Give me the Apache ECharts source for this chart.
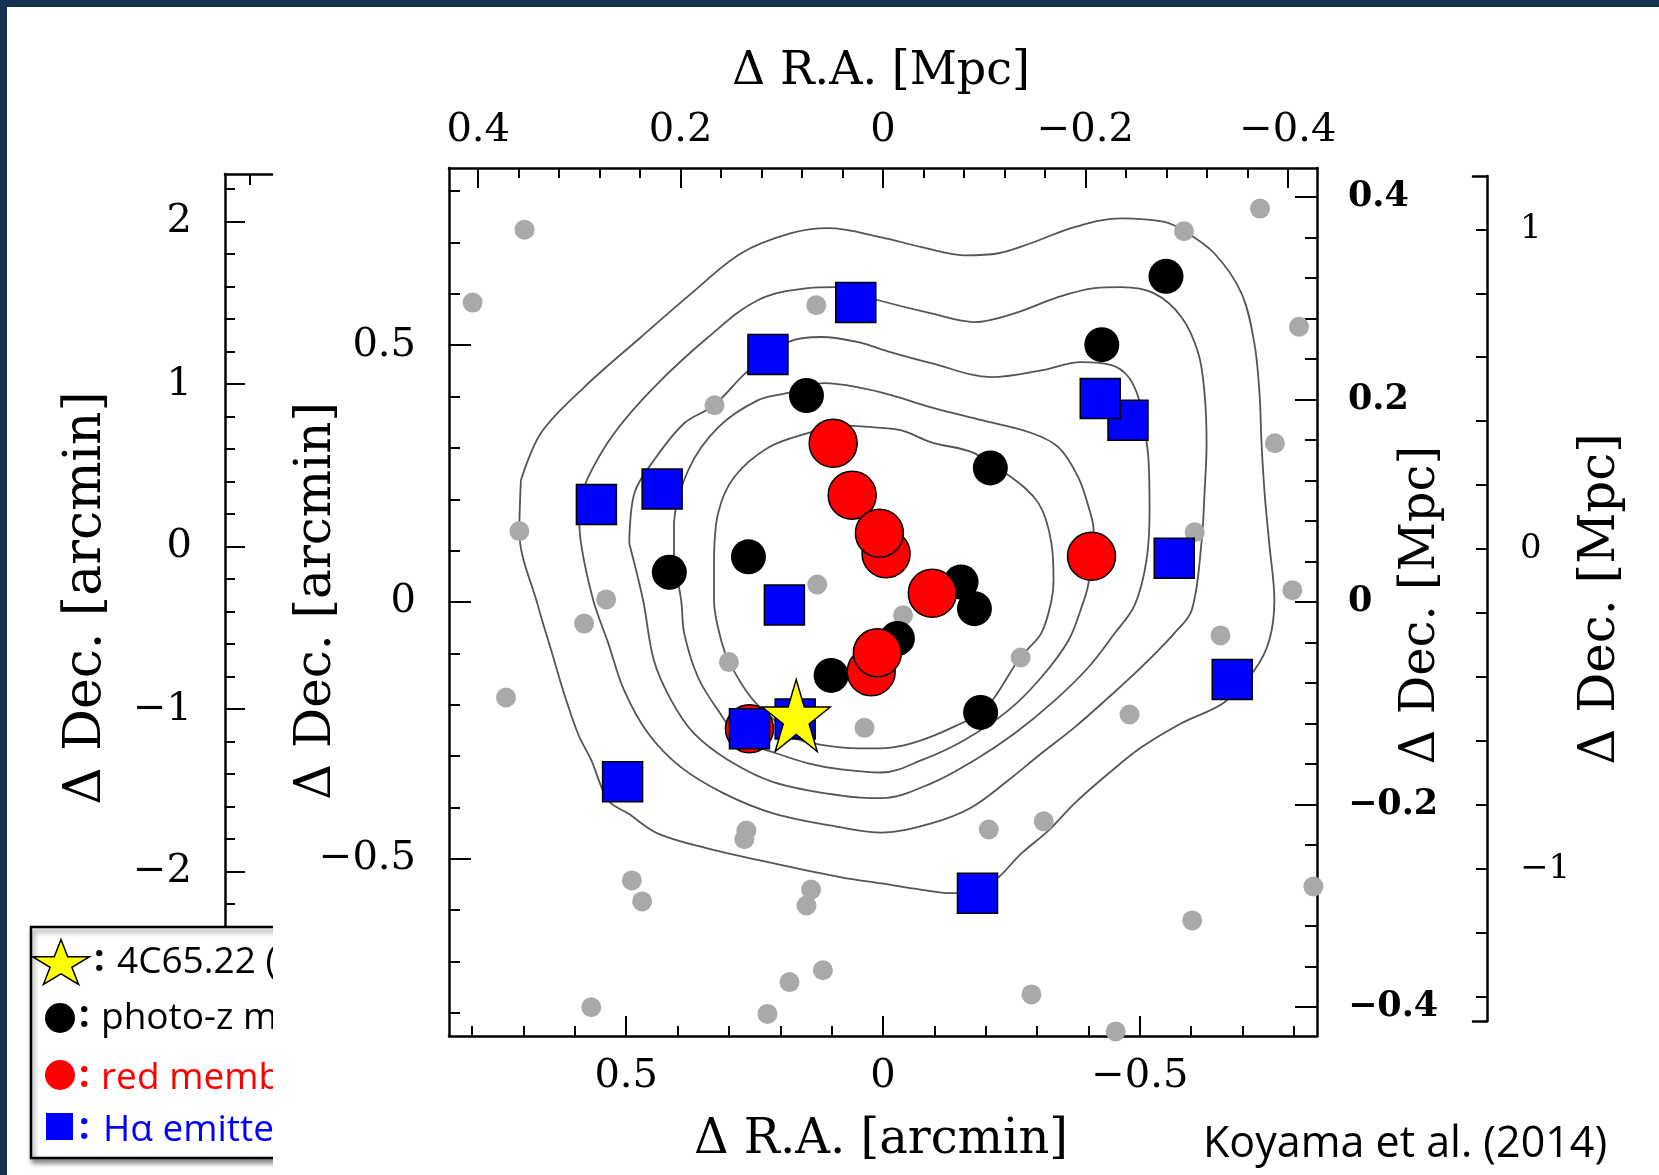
<!DOCTYPE html>
<html><head><meta charset="utf-8">
<script src="https://cdn.jsdelivr.net/npm/echarts@6/dist/echarts.min.js"></script>
<style>html,body{margin:0;padding:0;background:#fff}#chart{width:1659px;height:1175px}</style>
</head><body><div id="chart"></div>
<script>
// ---------------- DATA (arcmin offsets from 4C65.22 field centre) ----------------
const RA_ARC_HALF = 0.845;          // half width of panel, arcmin
const MPC_PER_ARCMIN = 0.5075;      // top/right axes scale
const MPC_HALF = RA_ARC_HALF * MPC_PER_ARCMIN;

const arcminMajor = [-0.5, 0, 0.5];
const arcminMinor = [-0.8,-0.7,-0.6,-0.4,-0.3,-0.2,-0.1,0.1,0.2,0.3,0.4,0.6,0.7,0.8];
const mpcMajor = [-0.4, -0.2, 0, 0.2, 0.4];
const mpcMinor = [-0.36,-0.32,-0.28,-0.24,-0.16,-0.12,-0.08,-0.04,0.04,0.08,0.12,0.16,0.24,0.28,0.32,0.36];
const wideArcMajor = [-2, -1, 0, 1, 2];
const wideArcMinor = [-2.6,-2.4,-2.2,-1.8,-1.6,-1.4,-1.2,-0.8,-0.6,-0.4,-0.2,0.2,0.4,0.6,0.8,1.2,1.4,1.6,1.8,2.2];
const wideMpcTicks = [-1.4,-1.2,-1,-0.8,-0.6,-0.4,-0.2,0,0.2,0.4,0.6,0.8,1];
const wideMpcLabels = [-1, 0, 1];

const grayPoints = [[0.698,0.725],[0.799,0.583],[0.130,0.578],[0.328,0.383],[0.708,0.138],[0.539,0.005],[0.128,0.034],
 [-0.734,0.766],[-0.586,0.722],[-0.810,0.536],[-0.763,0.309],[-0.607,0.136],[-0.797,0.023],[0.582,-0.042],[0.300,-0.117],
 [0.734,-0.186],[0.036,-0.245],[0.266,-0.445],[0.270,-0.462],[0.489,-0.542],[0.469,-0.583],[0.140,-0.560],[0.149,-0.591],
 [0.117,-0.717],[0.182,-0.740],[0.568,-0.789],[0.225,-0.802],[-0.039,-0.026],[-0.657,-0.065],[-0.268,-0.108],[-0.480,-0.219],
 [-0.206,-0.443],[-0.313,-0.427],[-0.838,-0.554],[-0.602,-0.620],[-0.289,-0.764],[-0.453,-0.836]];

const photozPoints = [[0.149,0.402],[0.416,0.058],[0.262,0.088],[-0.551,0.634],[-0.426,0.501],[-0.209,0.261],
 [-0.152,0.039],[-0.178,-0.013],[-0.028,-0.071],[0.101,-0.143],[-0.190,-0.215]];

const redPoints = [[0.097,0.309],[0.060,0.208],[-0.006,0.094],[0.007,0.134],[-0.096,0.017],[0.023,-0.136],[0.011,-0.099],
 [-0.406,0.089],[0.260,-0.247]];

const haPoints = [[0.053,0.583],[0.224,0.482],[0.558,0.190],[0.430,0.220],[0.192,-0.006],[-0.477,0.354],[-0.423,0.396],
 [-0.567,0.085],[-0.680,-0.151],[-0.184,-0.567],[0.507,-0.350],[0.171,-0.228],[0.260,-0.247]];

const radioGalaxy = [[0.169,-0.221]];

const contour1 = [[0.329,0.081],[0.321,0.173],[0.290,0.243],[0.223,0.301],[0.146,0.329],[0.081,0.344],[0.017,0.340],[-0.036,0.334],
 [-0.094,0.311],[-0.178,0.290],[-0.207,0.262],[-0.244,0.247],[-0.303,0.192],[-0.328,0.114],[-0.332,0.042],[-0.328,0.003],
 [-0.308,-0.061],[-0.267,-0.108],[-0.217,-0.186],[-0.190,-0.215],[-0.153,-0.236],[-0.075,-0.269],[0.003,-0.285],[0.048,-0.285],
 [0.126,-0.277],[0.173,-0.264],[0.212,-0.230],[0.257,-0.186],[0.299,-0.118],[0.315,-0.075],[0.329,0.003]];
const contour2 = [[0.407,0.081],[0.407,0.146],[0.379,0.257],[0.321,0.340],[0.243,0.393],[0.185,0.407],[0.114,0.426],[0.048,0.418],
 [-0.016,0.403],[-0.094,0.379],[-0.192,0.354],[-0.289,0.329],[-0.342,0.301],[-0.380,0.243],[-0.402,0.179],[-0.410,0.140],
 [-0.400,0.036],[-0.388,-0.006],[-0.361,-0.075],[-0.308,-0.147],[-0.244,-0.211],[-0.158,-0.269],[-0.075,-0.308],[0.003,-0.332],
 [0.081,-0.326],[0.146,-0.314],[0.212,-0.293],[0.276,-0.269],[0.321,-0.211],[0.360,-0.147],[0.387,-0.061],[0.393,0.003]];
const contour3 = [[0.494,0.114],[0.484,0.212],[0.446,0.276],[0.387,0.348],[0.329,0.383],[0.262,0.451],[0.185,0.506],[0.120,0.516],
 [0.048,0.506],[-0.016,0.486],[-0.094,0.465],[-0.211,0.438],[-0.308,0.451],[-0.386,0.467],[-0.445,0.461],[-0.478,0.438],
 [-0.499,0.393],[-0.509,0.340],[-0.517,0.276],[-0.519,0.179],[-0.513,0.081],[-0.490,-0.006],[-0.451,-0.061],[-0.400,-0.127],
 [-0.334,-0.192],[-0.256,-0.256],[-0.178,-0.308],[-0.094,-0.353],[0.003,-0.382],[0.081,-0.377],[0.212,-0.351],[0.301,-0.308],
 [0.368,-0.256],[0.412,-0.192],[0.446,-0.114],[0.467,0.003]];
const contour4 = [[0.592,0.185],[0.574,0.243],[0.523,0.329],[0.446,0.418],[0.340,0.516],[0.243,0.588],[0.146,0.611],[0.095,0.613],
 [0.011,0.588],[-0.094,0.562],[-0.178,0.545],[-0.256,0.562],[-0.342,0.594],[-0.412,0.611],[-0.464,0.613],[-0.528,0.601],
 [-0.581,0.555],[-0.614,0.484],[-0.626,0.407],[-0.630,0.309],[-0.626,0.212],[-0.620,0.114],[-0.601,-0.016],[-0.567,-0.061],
 [-0.503,-0.127],[-0.439,-0.186],[-0.373,-0.244],[-0.308,-0.295],[-0.244,-0.347],[-0.172,-0.400],[-0.094,-0.431],[0.003,-0.449],
 [0.081,-0.439],[0.212,-0.412],[0.309,-0.373],[0.393,-0.322],[0.457,-0.256],[0.504,-0.172],[0.535,-0.080],[0.564,0.003],[0.588,0.114]];
const contour5 = [[0.705,0.237],[0.666,0.329],[0.582,0.418],[0.471,0.516],[0.373,0.601],[0.276,0.679],[0.179,0.718],[0.107,0.728],
 [0.003,0.710],[-0.075,0.691],[-0.158,0.675],[-0.225,0.679],[-0.289,0.699],[-0.373,0.730],[-0.464,0.747],[-0.548,0.740],
 [-0.587,0.722],[-0.645,0.679],[-0.698,0.601],[-0.723,0.504],[-0.733,0.407],[-0.737,0.309],[-0.743,0.212],[-0.752,0.114],
 [-0.762,0.003],[-0.752,-0.075],[-0.723,-0.133],[-0.665,-0.195],[-0.581,-0.236],[-0.503,-0.283],[-0.439,-0.334],[-0.373,-0.392],
 [-0.322,-0.445],[-0.269,-0.490],[-0.225,-0.536],[-0.184,-0.565],[-0.137,-0.567],[-0.061,-0.558],[0.003,-0.548],[0.081,-0.536],
 [0.212,-0.509],[0.340,-0.480],[0.438,-0.451],[0.496,-0.412],[0.535,-0.386],[0.568,-0.308],[0.594,-0.256],[0.621,-0.178],
 [0.646,-0.094],[0.671,-0.010],[0.708,0.138]];
const contours = [contour1, contour2, contour3, contour4, contour5];

const legendLabels = ['4C65.22 (RG)', 'photo-z members', 'red members', 'H\u03b1 emitters'];
const creditText = 'Koyama et al. (2014)';

// ---------------- CHART ----------------
const SERIF = 'DejaVu Serif';
const SANS = '"Open Sans", Lato, sans-serif';
const fmt = v => (v < 0 ? '\u2212' + String(Math.abs(v)) : String(v));
const lineStyle = {color:'#000', width:2.5};
const tickStyle = {color:'#000', width:2};

function axis(o) {
  return Object.assign({
    type:'value', splitLine:{show:false},
    axisLine:{show:false, onZero:false, lineStyle},
    axisTick:{show:false},
    axisLabel:{show:false}
  }, o);
}
function ticks(vals, len) { return {show:true, inside:true, length:len, customValues:vals, lineStyle:tickStyle}; }
function labels(vals, margin, extra) {
  return Object.assign({show:true, customValues:vals, formatter:fmt, margin, color:'#000', fontFamily:SERIF, fontSize:40}, extra||{});
}

const xAxis = [
  axis({gridIndex:0, position:'bottom', min:-RA_ARC_HALF, max:RA_ARC_HALF, inverse:true,
        axisLine:{show:true,onZero:false,lineStyle}, axisTick:ticks(arcminMajor,20), axisLabel:labels(arcminMajor,21)}),
  axis({gridIndex:0, position:'bottom', min:-RA_ARC_HALF, max:RA_ARC_HALF, inverse:true, axisTick:ticks(arcminMinor,10)}),
  axis({gridIndex:0, position:'top', min:-MPC_HALF, max:MPC_HALF, inverse:true,
        axisLine:{show:true,onZero:false,lineStyle}, axisTick:ticks(mpcMajor,20), axisLabel:labels(mpcMajor,17)}),
  axis({gridIndex:0, position:'top', min:-MPC_HALF, max:MPC_HALF, inverse:true, axisTick:ticks(mpcMinor,10)}),
  axis({gridIndex:1, position:'top', min:0, max:1, axisLine:{show:true,onZero:false,lineStyle}, axisTick:ticks([0.53],11)}),
  axis({gridIndex:2, position:'top', min:0, max:1, axisLine:{show:true,onZero:false,lineStyle}}),
  axis({gridIndex:2, position:'bottom', min:0, max:1, axisLine:{show:true,onZero:false,lineStyle}})
];
const yAxis = [
  axis({gridIndex:0, position:'left', min:-RA_ARC_HALF, max:RA_ARC_HALF,
        axisLine:{show:true,onZero:false,lineStyle}, axisTick:ticks(arcminMajor,22), axisLabel:labels(arcminMajor,33)}),
  axis({gridIndex:0, position:'left', min:-RA_ARC_HALF, max:RA_ARC_HALF, axisTick:ticks(arcminMinor,11)}),
  axis({gridIndex:0, position:'right', min:-MPC_HALF, max:MPC_HALF,
        axisLine:{show:true,onZero:false,lineStyle}, axisTick:ticks(mpcMajor,22),
        axisLabel:labels(mpcMajor,31,{fontSize:35,fontWeight:'bold'})}),
  axis({gridIndex:0, position:'right', min:-MPC_HALF, max:MPC_HALF, axisTick:ticks(mpcMinor,12)}),
  axis({gridIndex:1, position:'left', min:-2.7895, max:2.2935,
        axisLine:{show:true,onZero:false,lineStyle}, axisTick:ticks(wideArcMajor,20), axisLabel:labels(wideArcMajor,33)}),
  axis({gridIndex:1, position:'left', min:-2.7895, max:2.2935, axisTick:ticks(wideArcMinor,10)}),
  axis({gridIndex:2, position:'right', min:-1.4753, max:1.1666,
        axisLine:{show:true,onZero:false,lineStyle}, axisTick:ticks(wideMpcTicks,11),
        axisLabel:labels(wideMpcLabels,33,{fontSize:34})})
];

const series = [];
contours.forEach((c, i) => {
  series.push({type:'line', name:'contour'+(i+1), xAxisIndex:0, yAxisIndex:0, data:c.concat([c[0]]),
    smooth:0.35, symbol:'none', silent:true, z:1, clip:false, animation:false,
    lineStyle:{color:'#555', width:1.8}});
});
function scatter(name, data, symbol, size, color, border, z) {
  return {type:'scatter', name, xAxisIndex:0, yAxisIndex:0, data, symbol, symbolSize:size, z, clip:false, silent:true,
    itemStyle:{color, opacity:1, borderColor:'#000', borderWidth:border}};
}
const STAR_PATH = 'path://M100,0 L122.45,69.1 L195.1,69.1 L136.33,111.8 L158.8,180.9 L100,138.2 L41.2,180.9 L63.67,111.8 L4.9,69.1 L77.55,69.1 Z';
series.push(scatter('other galaxies', grayPoints, 'circle', 20, '#a9a9a9', 0, 2));
series.push(scatter('photo-z members', photozPoints, 'circle', 35, '#000', 0, 3));
series.push(scatter('red members', redPoints, 'circle', 48, '#ff0000', 1.5, 4));
series.push(scatter('Hα emitters', haPoints, 'rect', 40, '#0000ff', 1.5, 5));
series.push(scatter('4C65.22', radioGalaxy, STAR_PATH, [68, 72], '#ffff00', 1.5, 6));

// legend star points
function starPoints(cx, cy, w, h) {
  const pts = [];
  for (let k = 0; k < 10; k++) {
    const r = k % 2 === 0 ? 1 : 0.382;
    const a = -Math.PI/2 + k * Math.PI/5;
    pts.push([cx + r*Math.cos(a) * (w/1.902), cy - h/2 + (r*Math.sin(a) + 1) * (h/1.809)]);
  }
  return pts;
}
function title(text, x, y, rot, size) {
  return {type:'text', x, y, rotation:rot?Math.PI/2:0, z:10,
    style:{text, fill:'#000', font:size + 'px "DejaVu Serif"', align:'center', verticalAlign:'middle', textAlign:'center', textVerticalAlign:'middle'}};
}
function ltext(text, x, y, color, bold) {
  return {type:'text', x, y, z:52, style:{text, fill:color, font:(bold ? 'bold ' : '') + '37px ' + SANS, align:'left', verticalAlign:'middle', textAlign:'left', textVerticalAlign:'middle'}};
}

const graphic = [
  {type:'rect', shape:{x:0,y:0,width:1659,height:7}, style:{fill:'#16304f'}, z:100},
  {type:'rect', shape:{x:0,y:0,width:7,height:1175}, style:{fill:'#16304f'}, z:100},
  title('\u0394 R.A. [Mpc]', 881, 72, false, 46),
  title('\u0394 R.A. [arcmin]', 881, 1141, false, 48),
  title('\u0394 Dec. [arcmin]', 317, 601, true, 50),
  title('\u0394 Dec. [arcmin]', 86, 598, true, 52),
  title('\u0394 Dec. [Mpc]', 1422, 605, true, 48),
  title('\u0394 Dec. [Mpc]', 1601, 599, true, 50),
  {type:'text', x:1203, y:1145, z:10, style:{text:creditText, fill:'#000', font:'43px ' + SANS, align:'left', verticalAlign:'middle'}},
  // legend box
  {type:'rect', shape:{x:31, y:927, width:380, height:231}, z:50,
   style:{fill:'#fff', stroke:'#000', lineWidth:2.5, shadowBlur:5, shadowColor:'rgba(0,0,0,0.45)', shadowOffsetX:2, shadowOffsetY:4}},
  {type:'polygon', shape:{points:starPoints(61, 962, 57, 45)}, z:52, style:{fill:'#ffff00', stroke:'#000', lineWidth:1.5}},
  ltext(':', 94, 960, '#000', true), ltext(legendLabels[0], 117, 962, '#000'),
  {type:'circle', shape:{cx:60, cy:1018, r:15}, z:52, style:{fill:'#000'}},
  ltext(':', 79, 1016, '#000', true), ltext(legendLabels[1], 101, 1018, '#000'),
  {type:'circle', shape:{cx:60, cy:1075, r:15}, z:52, style:{fill:'#ff0000'}},
  ltext(':', 79, 1076, '#ff0000', true), ltext(legendLabels[2], 101, 1078, '#ff0000'),
  {type:'rect', shape:{x:46, y:1113, width:27, height:27}, z:52, style:{fill:'#0000ff'}},
  ltext(':', 79, 1128, '#0000ff', true), ltext(legendLabels[3], 103, 1130, '#0000ff'),
  // crop of the pasted legend / panel
  {type:'rect', shape:{x:273, y:905, width:174, height:270}, z:60, style:{fill:'#fff'}}
];

const chart = echarts.init(document.getElementById('chart'), null, {renderer:'canvas'});
chart.setOption({
  animation:false,
  backgroundColor:'#fff',
  grid:[
    {left:449, top:168, width:868, height:868},
    {left:225, top:174, width:47, height:826},
    {left:1473, top:176, width:14, height:845}
  ],
  xAxis, yAxis, series, graphic
});
</script></body></html>
